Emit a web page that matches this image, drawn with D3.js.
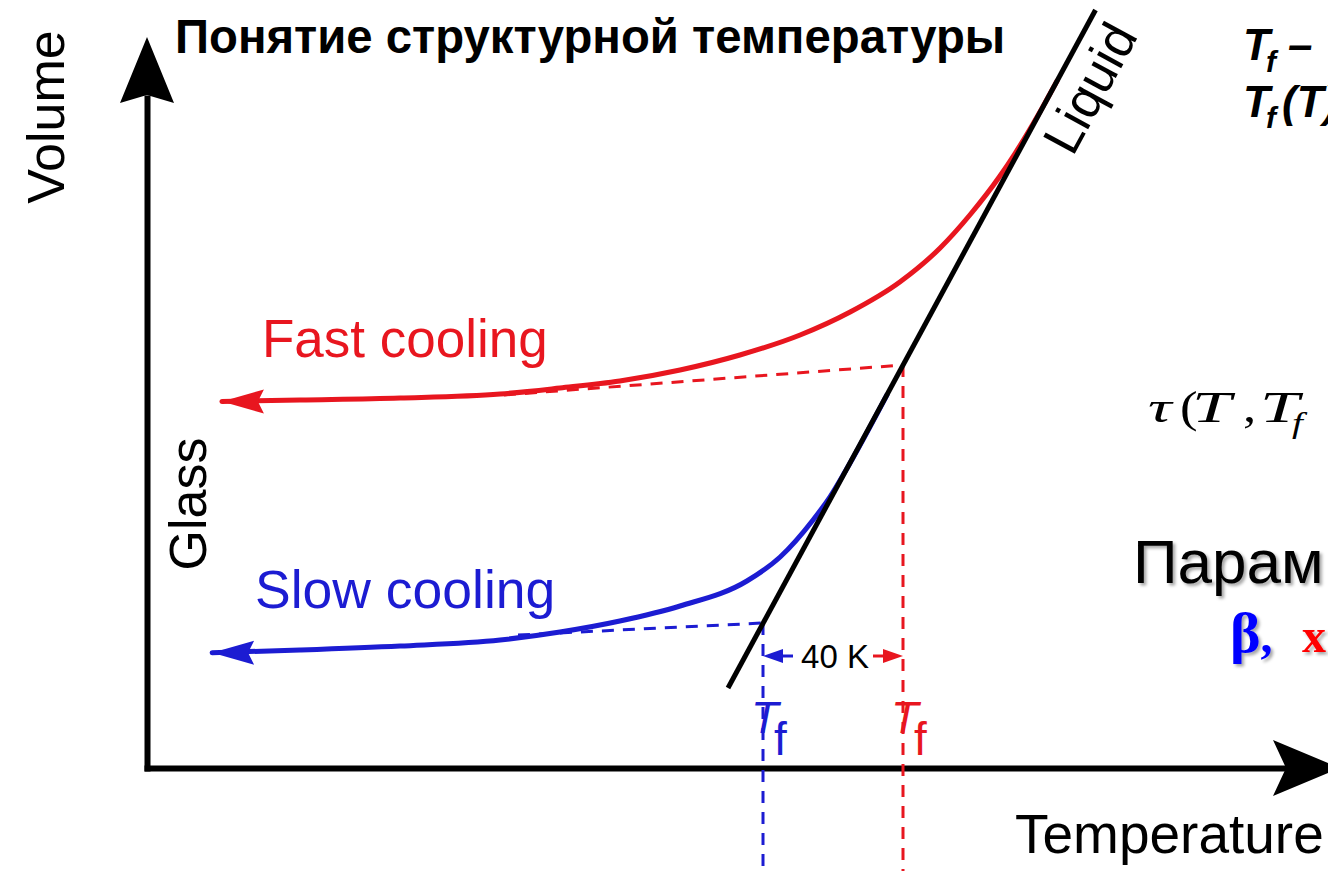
<!DOCTYPE html>
<html>
<head>
<meta charset="utf-8">
<script src="https://cdn.jsdelivr.net/npm/d3@7"></script>
<style>
  html, body { margin: 0; padding: 0; background: #fff; overflow: hidden; }
  svg { display: block; }
</style>
</head>
<body>
<svg id="chart" width="1328" height="871"></svg>
<script>
// Temperatures in K, volume in arbitrary units.
const tfSlow = 500;
const tfFast = 540;

// Equilibrium liquid line
const liquidT = [490, 595];
const liquidV = [0.80, 7.58];

// Fast cooling path (glass end first, then up onto the liquid line)
const fastCoolingT = [345.4, 367.7, 396.3, 424.9, 442.0, 459.1, 476.3, 493.4, 510.6, 524.9, 539.1, 550.6, 559.1, 567.7, 572, 576, 580, 584];
const fastCoolingV = [3.665, 3.68, 3.70, 3.74, 3.80, 3.87, 3.98, 4.13, 4.33, 4.56, 4.86, 5.20, 5.53, 5.92, 6.145, 6.373, 6.616, 6.87];

// Slow cooling path
const slowCoolingT = [342.6, 367.7, 396.3, 424.9, 442.0, 459.1, 476.3, 495.4, 504.9, 514.3, 519.1, 523.4, 535.4];
const slowCoolingV = [1.153, 1.18, 1.22, 1.28, 1.36, 1.47, 1.62, 1.87, 2.11, 2.48, 2.71, 2.96, 3.73];

// Glass lines extrapolated up to the liquid line (they meet it at Tf)
const fastGlassT = [426, tfFast];
const fastGlassV = [3.73, 4.03];
const slowGlassT = [430, tfSlow];
const slowGlassV = [1.33, 1.45];

// Level of the Tf difference marker
const gapMarkerV = 1.12;

const RED = "#e8161f";
const BLUE = "#1c1cd2";

const svg = d3.select("#chart");

const x = d3.scaleLinear().domain([324, 650]).range([147, 1288]);
const y = d3.scaleLinear().domain([0, 7.31]).range([768, 37]);

const defs = svg.append("defs");
const shadow = defs.append("filter").attr("id", "shadow")
  .attr("x", "-10%").attr("y", "-10%").attr("width", "130%").attr("height", "130%");
shadow.append("feDropShadow")
  .attr("dx", 2.5).attr("dy", 2.5).attr("stdDeviation", 1.5)
  .attr("flood-color", "#000").attr("flood-opacity", 0.35);

const smooth = d3.line()
  .x(d => x(d[0])).y(d => y(d[1]))
  .curve(d3.curveMonotoneX);
const straight = d3.line().x(d => x(d[0])).y(d => y(d[1]));

// ---- axes ----
const axisX = d3.axisBottom(x).tickValues([]).tickSizeOuter(0);
const gx = svg.append("g").attr("transform", `translate(0,${y(0)})`).call(axisX);
gx.select(".domain").attr("stroke", "#000").attr("stroke-width", 6).attr("stroke-linecap", "square");

const yAxisScale = d3.scaleLinear().domain([0, 6.7]).range([y(0), y(6.7)]);
const axisY = d3.axisLeft(yAxisScale).tickValues([]).tickSizeOuter(0);
const gy = svg.append("g").attr("transform", `translate(${x(324)},0)`).call(axisY);
gy.select(".domain").attr("stroke", "#000").attr("stroke-width", 6).attr("stroke-linecap", "square");

// axis arrowheads
const ax0 = x(324), ay0 = y(0);
svg.append("path")
  .attr("d", `M${ax0},${y(7.31)} L${ax0 + 27},${y(7.31) + 66} L${ax0},${y(7.31) + 58} L${ax0 - 27},${y(7.31) + 66} Z`)
  .attr("fill", "#000");
const xTipX = 1340;
svg.append("path")
  .attr("d", `M${xTipX},${ay0} L${xTipX - 67},${ay0 - 28} L${xTipX - 54},${ay0} L${xTipX - 67},${ay0 + 28} Z`)
  .attr("fill", "#000");

// ---- dashed construction lines ----
const dash = "12,9";
svg.append("path").datum(d3.zip(fastGlassT, fastGlassV)).attr("d", straight)
  .attr("fill", "none").attr("stroke", RED).attr("stroke-width", 3).attr("stroke-dasharray", dash);
svg.append("path").datum(d3.zip(slowGlassT, slowGlassV)).attr("d", straight)
  .attr("fill", "none").attr("stroke", BLUE).attr("stroke-width", 3).attr("stroke-dasharray", dash);

const fastDrop = [[tfFast, fastGlassV[1]], [tfFast, -1.2]];
const slowDrop = [[tfSlow, slowGlassV[1]], [tfSlow, -1.2]];
svg.append("path").datum(fastDrop).attr("d", straight)
  .attr("fill", "none").attr("stroke", RED).attr("stroke-width", 3).attr("stroke-dasharray", dash);
svg.append("path").datum(slowDrop).attr("d", straight)
  .attr("fill", "none").attr("stroke", BLUE).attr("stroke-width", 3).attr("stroke-dasharray", dash);

// ---- cooling curves ----
function coolingCurve(T, V, color) {
  const pts = d3.zip(T, V);
  svg.append("path").datum(pts).attr("d", smooth)
    .attr("fill", "none").attr("stroke", color).attr("stroke-width", 5)
    .attr("stroke-linecap", "round");
  // arrowhead at the glass end, pointing toward lower temperature
  const tx = x(pts[0][0]), ty = y(pts[0][1]);
  svg.append("path")
    .attr("d", `M${tx},${ty} L${tx + 42},${ty - 12} L${tx + 36},${ty} L${tx + 42},${ty + 12} Z`)
    .attr("fill", color);
}
coolingCurve(fastCoolingT, fastCoolingV, RED);
coolingCurve(slowCoolingT, slowCoolingV, BLUE);

// liquid line on top
svg.append("path").datum(d3.zip(liquidT, liquidV)).attr("d", straight)
  .attr("fill", "none").attr("stroke", "#000").attr("stroke-width", 5);

// ---- Tf difference marker ----
const gy0 = y(gapMarkerV);
const xs = x(tfSlow), xf = x(tfFast);
svg.append("line").attr("x1", xs + 14).attr("x2", xs + 30).attr("y1", gy0).attr("y2", gy0)
  .attr("stroke", BLUE).attr("stroke-width", 3);
svg.append("path").attr("d", `M${xs},${gy0} L${xs + 20},${gy0 - 7} L${xs + 20},${gy0 + 7} Z`).attr("fill", BLUE);
svg.append("line").attr("x1", xf - 30).attr("x2", xf - 14).attr("y1", gy0).attr("y2", gy0)
  .attr("stroke", RED).attr("stroke-width", 3);
svg.append("path").attr("d", `M${xf},${gy0} L${xf - 20},${gy0 - 7} L${xf - 20},${gy0 + 7} Z`).attr("fill", RED);
svg.append("text").attr("x", (xs + xf) / 2 + 2).attr("y", gy0 + 12)
  .attr("text-anchor", "middle")
  .attr("font-family", "Liberation Sans, Arial, sans-serif").attr("font-size", 33)
  .text(`${tfFast - tfSlow} K`);

// Tf labels under the construction lines
function tfLabel(T, color) {
  const t = svg.append("text").attr("fill", color)
    .attr("font-family", "Liberation Sans, Arial, sans-serif");
  t.append("tspan").attr("x", x(T) - 12).attr("y", 733).attr("font-size", 45).attr("font-style", "italic").text("T");
  t.append("tspan").attr("x", x(T) + 11).attr("y", 755).attr("font-size", 46).text("f");
}
tfLabel(tfSlow, BLUE);
tfLabel(tfFast, RED);

// ---- labels ----
const sans = "Liberation Sans, Arial, Helvetica, sans-serif";
svg.append("text").attr("x", 262).attr("y", 357).attr("fill", RED)
  .attr("font-family", sans).attr("font-size", 53).text("Fast cooling");
svg.append("text").attr("x", 255).attr("y", 608).attr("fill", BLUE)
  .attr("font-family", sans).attr("font-size", 53.5).text("Slow cooling");
svg.append("text").attr("transform", "translate(206,504) rotate(-90)")
  .attr("text-anchor", "middle").attr("font-family", sans).attr("font-size", 52).text("Glass");
svg.append("text").attr("transform", "translate(64,117) rotate(-90)")
  .attr("text-anchor", "middle").attr("font-family", sans).attr("font-size", 52).text("Volume");
svg.append("text").attr("x", 1015).attr("y", 853)
  .attr("font-family", sans).attr("font-size", 55).text("Temperature");

const angle = Math.atan2(y(liquidV[1]) - y(liquidV[0]), x(liquidT[1]) - x(liquidT[0])) * 180 / Math.PI;
svg.append("text").attr("transform", `translate(1090,88) rotate(${angle})`)
  .attr("text-anchor", "middle").attr("dominant-baseline", "central")
  .attr("font-family", sans).attr("font-size", 52).text("Liquid");

svg.append("text").attr("x", 175).attr("y", 53)
  .attr("font-family", sans).attr("font-weight", "bold").attr("font-size", 47.3)
  .text("Понятие структурной температуры");

// ---- side notes ----
const bi = svg.append("g").attr("font-family", sans).attr("font-weight", "bold").attr("font-style", "italic");
bi.append("text").attr("x", 1243).attr("y", 60).attr("font-size", 44).text("T");
bi.append("text").attr("x", 1266).attr("y", 72).attr("font-size", 30).text("f");
bi.append("text").attr("x", 1288).attr("y", 60).attr("font-size", 44).text("–");
bi.append("text").attr("x", 1243).attr("y", 117).attr("font-size", 44).text("T");
bi.append("text").attr("x", 1266).attr("y", 128).attr("font-size", 30).text("f");
bi.append("text").attr("x", 1282).attr("y", 117).attr("font-size", 44).text("(T)");

// relaxation time expression, glyphs placed one by one (equation-editor spacing)
const serif = "Liberation Serif, Times New Roman, serif";
const eq = svg.append("g").attr("font-family", serif).attr("font-style", "italic").attr("font-size", 44);
function eqGlyph(gx, gyv, s, opts = {}) {
  const t = eq.append("text").attr("transform", `translate(${gx},${gyv}) scale(${opts.sx || 1.5},1)`).text(s);
  if (opts.upright) t.attr("font-style", "normal");
  if (opts.size) t.attr("font-size", opts.size);
  return t;
}
eqGlyph(1148, 422, "τ");
eqGlyph(1180, 422, "(", { upright: true, sx: 1.2 });
eqGlyph(1192, 422, "T", { sx: 1.6 });
eqGlyph(1243, 422, ",", { upright: true, sx: 1.2 });
eqGlyph(1260, 422, "T", { sx: 1.6 });
eqGlyph(1292, 433, "f", { size: 30, sx: 1.3 });

svg.append("text").attr("x", 1133).attr("y", 583).attr("filter", "url(#shadow)")
  .attr("font-family", sans).attr("font-size", 62).text("Парам");
const params = svg.append("text").attr("x", 1230).attr("y", 652).attr("filter", "url(#shadow)")
  .attr("font-family", serif).attr("font-weight", "bold").attr("font-size", 48);
params.append("tspan").attr("fill", "#0000ff").attr("font-size", 58).text("β");
params.append("tspan").attr("fill", "#0000ff").text(",");
params.append("tspan").attr("x", 1302).attr("fill", "#ff0000").text("x");
</script>
</body>
</html>
